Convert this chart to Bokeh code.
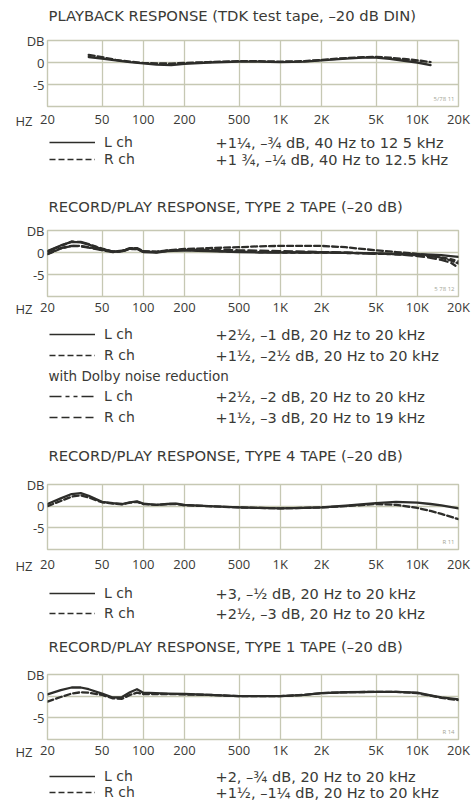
from bokeh.plotting import figure
from bokeh.models import FixedTicker, Label, Legend, LegendItem, Title
from bokeh.layouts import column
from bokeh.embed import file_html
from bokeh.resources import INLINE

TICK_FONT = "Open Sans"
TEXT_FONT = "DejaVu Sans"
TXT = "#3a3a36"
INK = "#2d2d2a"
GRID = "#c6c8b3"
W = 474
LEFT, RIGHT = 47, 16          # frame spans x = 47 .. 458

# ---------------- axis ticks ----------------
x_ticks = [20, 50, 100, 200, 500, 1000, 2000, 5000, 10000, 20000]
x_tick_labels = ["20", "50", "100", "200", "500", "1K", "2K", "5K", "10K", "20K"]
y_ticks = [5, 0, -5]
y_tick_labels = ["DB", "0", "-5"]

# ---------------- chart 1: playback response ----------------
title1 = "PLAYBACK RESPONSE (TDK test tape, –20 dB DIN)"
f1 = [40, 50, 63, 80, 100, 125, 160, 200, 300, 500, 700, 1000, 1500, 2000, 3000, 4000, 5000, 6300, 8000, 10000, 12500]
L1 = [1.25, 0.9, 0.5, 0.1, -0.2, -0.5, -0.6, -0.3, 0.0, 0.2, 0.2, 0.1, 0.2, 0.5, 0.9, 1.1, 1.1, 0.8, 0.4, 0.0, -0.6]
R1 = [1.75, 1.2, 0.6, 0.2, -0.1, -0.2, -0.25, -0.1, 0.1, 0.3, 0.3, 0.2, 0.3, 0.6, 1.0, 1.2, 1.3, 1.1, 0.8, 0.5, 0.1]
spec1 = ["+1¼, –¾ dB, 40 Hz to 12 5 kHz", "+1 ¾, –¼ dB, 40 Hz to 12.5 kHz"]

# ---------------- chart 2: type 2 tape ----------------
title2 = "RECORD/PLAY RESPONSE, TYPE 2 TAPE (–20 dB)"
f2 = [20, 25, 30, 35, 40, 50, 60, 70, 80, 90, 100, 125, 150, 200, 250, 300, 500, 700, 1000, 1500, 2000, 3000, 5000, 7000, 10000, 12500, 15000, 17500, 20000]
L2 = [0.3, 1.6, 2.4, 2.3, 1.8, 0.8, 0.2, 0.3, 0.9, 0.8, 0.1, 0.0, 0.3, 0.5, 0.4, 0.3, 0.1, 0.0, 0.0, 0.0, 0.0, -0.1, -0.2, -0.3, -0.4, -0.5, -0.6, -0.8, -1.0]
R2 = [-0.4, 0.9, 1.5, 1.5, 1.2, 0.6, 0.2, 0.4, 1.0, 1.0, 0.3, 0.2, 0.5, 0.8, 0.9, 1.0, 1.2, 1.4, 1.5, 1.5, 1.5, 1.2, 0.5, 0.1, -0.3, -0.7, -1.2, -1.8, -2.5]
DL2 = [0.2, 1.5, 2.5, 2.4, 1.9, 0.9, 0.2, 0.2, 0.8, 0.8, 0.2, 0.1, 0.4, 0.6, 0.5, 0.4, 0.2, 0.1, 0.0, 0.0, 0.0, -0.1, -0.3, -0.4, -0.6, -0.8, -1.1, -1.5, -2.0]
f2_dr = [20, 25, 30, 35, 40, 50, 60, 70, 80, 90, 100, 125, 150, 200, 250, 300, 500, 700, 1000, 1500, 2000, 3000, 5000, 7000, 10000, 12500, 15000, 17500, 19000]
DR2 = [-0.3, 1.0, 1.5, 1.4, 1.1, 0.5, 0.1, 0.3, 0.9, 0.9, 0.2, 0.1, 0.4, 0.6, 0.6, 0.6, 0.5, 0.4, 0.3, 0.2, 0.1, 0.0, -0.2, -0.4, -0.8, -1.2, -1.7, -2.3, -3.0]
spec2 = ["+2½, –1 dB, 20 Hz to 20 kHz", "+1½, –2½ dB, 20 Hz to 20 kHz",
         "+2½, –2 dB, 20 Hz to 20 kHz", "+1½, –3 dB, 20 Hz to 19 kHz"]
dolby_note = "with Dolby noise reduction"

# ---------------- chart 3: type 4 tape ----------------
title3 = "RECORD/PLAY RESPONSE, TYPE 4 TAPE (–20 dB)"
f3 = [20, 25, 30, 35, 40, 50, 60, 70, 80, 90, 100, 125, 150, 175, 200, 300, 500, 700, 1000, 1500, 2000, 3000, 5000, 7000, 10000, 12500, 15000, 20000]
L3 = [0.5, 1.8, 2.8, 3.0, 2.4, 1.0, 0.7, 0.5, 0.9, 1.1, 0.6, 0.3, 0.5, 0.6, 0.3, 0.0, -0.3, -0.4, -0.5, -0.4, -0.3, 0.1, 0.7, 1.0, 0.8, 0.5, 0.2, -0.5]
R3 = [0.0, 1.2, 2.2, 2.5, 2.0, 0.9, 0.6, 0.4, 0.8, 1.0, 0.5, 0.3, 0.5, 0.5, 0.2, 0.0, -0.3, -0.4, -0.5, -0.4, -0.3, 0.0, 0.5, 0.3, -0.4, -1.1, -1.8, -3.0]
spec3 = ["+3, –½ dB, 20 Hz to 20 kHz", "+2½, –3 dB, 20 Hz to 20 kHz"]

# ---------------- chart 4: type 1 tape ----------------
title4 = "RECORD/PLAY RESPONSE, TYPE 1 TAPE (–20 dB)"
f4 = [20, 25, 30, 35, 40, 50, 60, 70, 80, 90, 100, 150, 200, 300, 500, 700, 1000, 1500, 2000, 3000, 5000, 7000, 10000, 12500, 15000, 20000]
L4 = [0.4, 1.4, 2.0, 2.0, 1.6, 0.6, -0.3, -0.2, 0.9, 1.6, 0.8, 0.6, 0.5, 0.3, 0.0, 0.0, 0.0, 0.3, 0.7, 0.9, 1.0, 1.0, 0.8, 0.2, -0.3, -0.75]
R4 = [-1.25, -0.2, 0.6, 0.9, 0.8, 0.3, -0.5, -0.6, 0.3, 0.8, 0.5, 0.5, 0.4, 0.3, 0.0, 0.0, 0.0, 0.3, 0.7, 0.9, 1.0, 1.0, 0.7, 0.1, -0.4, -0.9]
spec4 = ["+2, –¾ dB, 20 Hz to 20 kHz", "+1½, –1¼ dB, 20 Hz to 20 kHz"]

stamps = ["5/78 11", "5 78 12", "R 11", "R 14"]

SOLID = "solid"
DASH = "6 3"
DOLBY_L = "12 4 4 4 4 4"
DOLBY_R = "8 4"


def chart(series, stamp, frame_h, standoff, top=10, bottom=23):
    p = figure(width=W, height=top + frame_h + bottom, x_axis_type="log",
               x_range=(20, 20000), y_range=(-10, 5), output_backend="svg",
               toolbar_location=None, min_border_left=LEFT, min_border_right=RIGHT,
               min_border_top=top, min_border_bottom=bottom)
    p.background_fill_color = "white"
    p.border_fill_color = "white"
    p.outline_line_color = GRID
    p.outline_line_width = 1.4

    p.xaxis.ticker = FixedTicker(ticks=x_ticks)
    p.xaxis.major_label_overrides = {t: s for t, s in zip(x_ticks, x_tick_labels)}
    p.yaxis.ticker = FixedTicker(ticks=y_ticks)
    p.yaxis.major_label_overrides = {t: s for t, s in zip(y_ticks, y_tick_labels)}
    for ax in (p.xaxis, p.yaxis):
        ax.axis_line_color = None
        ax.major_tick_line_color = None
        ax.minor_tick_line_color = None
        ax.major_tick_out = 0
        ax.major_tick_in = 0
        ax.major_label_text_font = TICK_FONT
        ax.major_label_text_font_size = "13px"
        ax.major_label_text_color = TXT
    p.xaxis.major_label_standoff = standoff
    p.yaxis.major_label_standoff = 3

    p.add_layout(Title(text="HZ", align="left", offset=-32, vertical_align="top",
                       standoff=-37, text_font=TICK_FONT, text_font_size="13px",
                       text_font_style="normal", text_color=TXT), "below")

    p.xgrid.ticker = FixedTicker(ticks=x_ticks[1:-1])
    p.ygrid.ticker = FixedTicker(ticks=[0, -5])
    for g in (p.xgrid, p.ygrid):
        g.grid_line_color = GRID
        g.grid_line_width = 1.3

    for xs, ys, dash in series:
        p.line(xs, ys, line_color=INK, line_width=2.3, line_dash=dash,
               line_join="round", line_cap="round")

    p.add_layout(Label(x=20000, y=-10, x_offset=-4, y_offset=4, text=stamp,
                       text_font=TICK_FONT, text_font_size="6px", text_color="#a3a596",
                       text_align="right", text_baseline="bottom"))
    return p


def text_panel(page_top, page_bottom, entries):
    """Text strip between charts: key rows (line sample, channel, spec), notes, titles.
    Entries give the page y of each row; the strip's x units are page pixels."""
    h = page_bottom - page_top
    q = figure(width=W, height=h, x_range=(LEFT, W - RIGHT), y_range=(0, h),
               x_axis_location=None, y_axis_location=None, min_border_left=LEFT,
               min_border_right=RIGHT, min_border_top=0, min_border_bottom=0,
               toolbar_location=None, output_backend="svg")
    q.outline_line_color = None
    q.grid.visible = False
    q.background_fill_color = "white"
    q.border_fill_color = "white"
    for e in entries:
        kind, page_y = e[0], e[1]
        y = page_bottom - page_y
        if kind == "title":
            q.add_layout(Label(x=48, y=y, text=e[2], text_font=TEXT_FONT,
                               text_font_size="14.75px", text_color=TXT,
                               text_baseline="middle"))
        elif kind == "note":
            q.add_layout(Label(x=48, y=y, text=e[2], text_font=TEXT_FONT,
                               text_font_size="13.5px", text_color=TXT,
                               text_baseline="middle"))
        else:
            _, _, name, dash, spec = e
            r = q.line(x=[float("nan")], y=[float("nan")], line_color=INK,
                       line_width=1.3, line_dash=dash)
            q.add_layout(Legend(items=[LegendItem(label=name, renderers=[r])],
                                location=(2, y - 9), padding=0, margin=0, spacing=0,
                                label_height=18, glyph_height=18, glyph_width=46,
                                label_standoff=9, border_line_alpha=0,
                                background_fill_alpha=0, label_text_font=TEXT_FONT,
                                label_text_font_size="14px", label_text_color=TXT))
            q.add_layout(Label(x=215, y=y, text=spec, text_font=TEXT_FONT,
                               text_font_size="14.5px", text_color=TXT,
                               text_baseline="middle"))
    return q


t0 = text_panel(0, 30, [("title", 15, title1)])
a1 = chart([(f1, L1, SOLID), (f1, R1, DASH)], stamps[0], 67, 3)
t1 = text_panel(130, 220, [("key", 142, "L ch", SOLID, spec1[0]),
                           ("key", 159, "R ch", DASH, spec1[1]),
                           ("title", 206, title2)])
a2 = chart([(f2, L2, SOLID), (f2, R2, DASH), (f2, DL2, DOLBY_L), (f2_dr, DR2, DOLBY_R)],
           stamps[1], 67, 1, bottom=21)
t2 = text_panel(318, 474, [("key", 334, "L ch", SOLID, spec2[0]),
                           ("key", 355, "R ch", DASH, spec2[1]),
                           ("note", 375, dolby_note),
                           ("key", 396, "L ch", DOLBY_L, spec2[2]),
                           ("key", 417, "R ch", DOLBY_R, spec2[3]),
                           ("title", 455, title3)])
a3 = chart([(f3, L3, SOLID), (f3, R3, DASH)], stamps[2], 68, 5)
t3 = text_panel(575, 664, [("key", 593, "L ch", SOLID, spec3[0]),
                           ("key", 613, "R ch", DASH, spec3[1]),
                           ("title", 646, title4)])
a4 = chart([(f4, L4, SOLID), (f4, R4, DASH)], stamps[3], 65, 1)
t4 = text_panel(762, 801, [("key", 776, "L ch", SOLID, spec4[0]),
                           ("key", 792, "R ch", DASH, spec4[1])])

layout = column(t0, a1, t1, a2, t2, a3, t3, a4, t4, spacing=0)
open("out.html", "w").write(file_html(layout, INLINE))
